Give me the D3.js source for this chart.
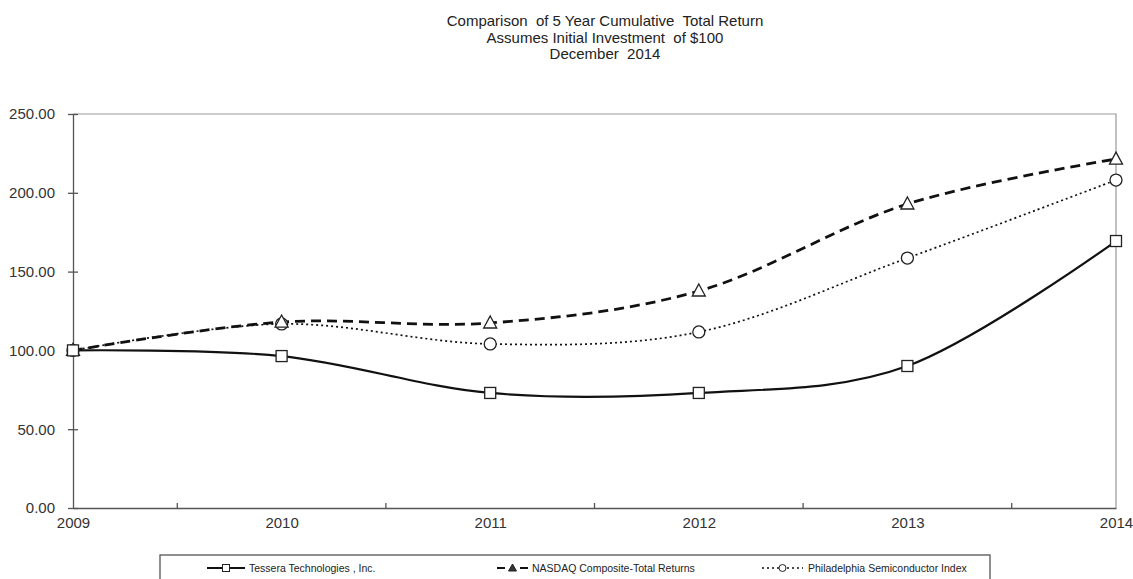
<!DOCTYPE html>
<html><head><meta charset="utf-8">
<script src="https://cdn.jsdelivr.net/npm/d3@7"></script>
<style>body{margin:0;background:#fff}svg{display:block}</style>
</head><body>
<svg id="c" width="1133" height="579"></svg>
<script>
const years = [2009, 2010, 2011, 2012, 2013, 2014];
const tessera = [100, 96.4, 73.0, 73.0, 90.1, 169.4];
const nasdaq = [100, 118.0, 117.4, 137.7, 192.9, 221.4];
const sox = [100, 116.8, 104.1, 111.7, 158.6, 208.1];
const yTicks = [0, 50, 100, 150, 200, 250];
const titleLines = ["Comparison  of 5 Year Cumulative  Total Return", "Assumes Initial Investment  of $100", "December  2014"];
const seriesNames = ["Tessera Technologies , Inc.", "NASDAQ Composite-Total Returns", "Philadelphia Semiconductor Index"];

const series = [
  {name: seriesNames[0], values: tessera, dash: null, width: 2.2, marker: "square"},
  {name: seriesNames[1], values: nasdaq, dash: "10,6", width: 2.8, marker: "triangle"},
  {name: seriesNames[2], values: sox, dash: "2,3", width: 1.7, marker: "circle"}
];

const svg = d3.select("#c");
const L = 73, R = 1116, T = 114, B = 508;
const x = d3.scaleLinear().domain([2009, 2014]).range([L, R]);
const y = d3.scaleLinear().domain([0, 250]).range([B, T]);
const font = "Liberation Sans, Arial, sans-serif";

// title
svg.append("g").selectAll("text").data(titleLines).join("text")
  .attr("x", 605).attr("y", (d, i) => 26 + i * 16.5)
  .attr("text-anchor", "middle").attr("font-family", font).attr("font-size", 15)
  .attr("fill", "#222").style("white-space", "pre").text(d => d);

// border (top/right)
svg.append("path").attr("d", `M${L},${T}H${R}V${B}`).attr("fill", "none").attr("stroke", "#9a9a9a").attr("stroke-width", 1.2);

// y axis
const yAxis = svg.append("g").attr("transform", `translate(${L},0)`)
  .call(d3.axisLeft(y).tickValues(yTicks).tickFormat(d3.format(".2f")).tickSize(5).tickSizeOuter(0));
yAxis.select(".domain").attr("stroke", "#555").attr("stroke-width", 1.3);
yAxis.selectAll(".tick line").attr("stroke", "#555").attr("stroke-width", 1.3).attr("x2", 5).attr("x1", -5);
yAxis.selectAll(".tick text").attr("x", -18).attr("font-family", font).attr("font-size", 15).attr("fill", "#333");

// x axis
const xAxis = svg.append("g").attr("transform", `translate(0,${B})`)
  .call(d3.axisBottom(x).tickValues(years).tickFormat(d3.format("d")).tickSize(0).tickSizeOuter(0));
xAxis.select(".domain").attr("stroke", "#555").attr("stroke-width", 1.3);
xAxis.selectAll(".tick text").attr("dy", "1.15em").attr("font-family", font).attr("font-size", 15).attr("fill", "#333");
// minor ticks between years
const mids = years.slice(0, -1).map(v => v + 0.5);
svg.append("g").selectAll("line").data(mids).join("line")
  .attr("x1", d => x(d)).attr("x2", d => x(d)).attr("y1", B - 5).attr("y2", B)
  .attr("stroke", "#555").attr("stroke-width", 1.3);

const line = d3.line().x((d, i) => x(years[i])).y(d => y(d)).curve(d3.curveCardinal.tension(0));

function drawMarker(g, type, cx, cy) {
  if (type === "square") {
    g.append("rect").attr("x", cx - 5.5).attr("y", cy - 5.5).attr("width", 11).attr("height", 11)
      .attr("fill", "#fff").attr("stroke", "#222").attr("stroke-width", 1.3);
  } else if (type === "circle") {
    g.append("circle").attr("cx", cx).attr("cy", cy).attr("r", 6)
      .attr("fill", "#fff").attr("stroke", "#222").attr("stroke-width", 1.3);
  } else {
    g.append("path").attr("d", `M${cx},${cy - 7}L${cx + 6.5},${cy + 5}L${cx - 6.5},${cy + 5}Z`)
      .attr("fill", "#fff").attr("stroke", "#222").attr("stroke-width", 1.3);
  }
}

[2, 1, 0].forEach(k => {
  const s = series[k];
  svg.append("path").datum(s.values).attr("d", line).attr("fill", "none")
    .attr("stroke", "#111").attr("stroke-width", s.width)
    .attr("stroke-dasharray", s.dash);
});
[2, 1, 0].forEach(k => {
  const s = series[k];
  const g = svg.append("g");
  s.values.forEach((v, i) => drawMarker(g, s.marker, x(years[i]), y(v)));
});

// legend
svg.append("rect").attr("x", 160).attr("y", 555).attr("width", 830).attr("height", 40)
  .attr("fill", "none").attr("stroke", "#555").attr("stroke-width", 1.3);
const legPos = [{x1: 207, x2: 245, tx: 249}, {x1: 497, x2: 528, tx: 532}, {x1: 762, x2: 803, tx: 808}];
const lg = svg.append("g");
series.forEach((s, k) => {
  const p = legPos[k], ly = 568;
  lg.append("line").attr("x1", p.x1).attr("x2", p.x2).attr("y1", ly).attr("y2", ly)
    .attr("stroke", "#111").attr("stroke-width", k === 2 ? 1.6 : 2.2)
    .attr("stroke-dasharray", k === 1 ? "8,15" : s.dash);
  const cx = (p.x1 + p.x2) / 2;
  const mg = lg.append("g");
  if (s.marker === "square") mg.append("rect").attr("x", cx - 3.5).attr("y", ly - 3.5).attr("width", 7).attr("height", 7).attr("fill", "#fff").attr("stroke", "#222");
  else if (s.marker === "circle") mg.append("circle").attr("cx", cx).attr("cy", ly).attr("r", 3.5).attr("fill", "#fff").attr("stroke", "#222");
  else mg.append("path").attr("d", `M${cx},${ly - 4}L${cx + 4},${ly + 3}L${cx - 4},${ly + 3}Z`).attr("fill", "#333").attr("stroke", "#222");
  lg.append("text").attr("x", p.tx).attr("y", ly + 4).attr("font-family", font).attr("font-size", 10.5)
    .attr("fill", "#222").style("white-space", "pre").text(s.name);
});
</script>
</body></html>
